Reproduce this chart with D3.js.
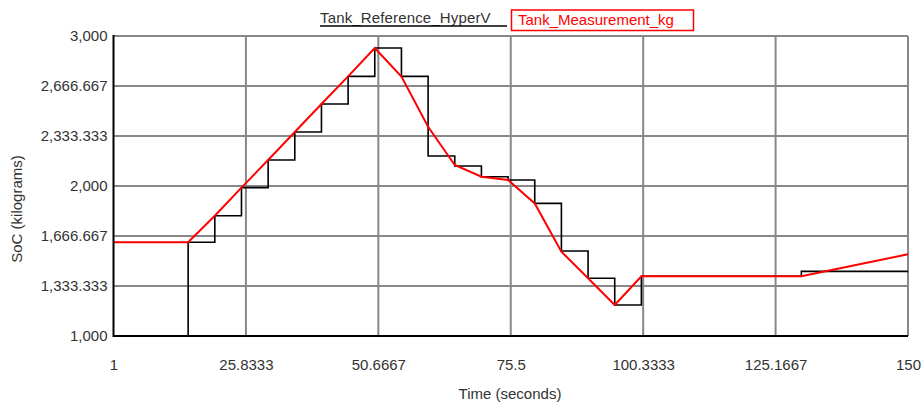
<!DOCTYPE html>
<html>
<head>
<meta charset="utf-8">
<script src="https://cdn.jsdelivr.net/npm/d3@7"></script>
<style>
  body { margin: 0; background: #fff; }
  svg { display: block; font-family: "Liberation Sans", Arial, sans-serif; }
</style>
</head>
<body>
<main></main>
<script>
// reference (step) series
const refTimes = [1, 15, 20, 25, 30, 35, 40, 45, 50, 55, 60, 65, 70, 75, 80, 85, 90, 95, 100, 130, 150];
const refValues = [1000, 1625, 1802, 1989, 2173, 2360, 2547, 2731, 2920, 2731, 2200, 2133, 2062, 2040, 1884, 1567, 1385, 1207, 1398, 1431, 1431];

// measurement series
const measTimes = [1, 15, 20, 25, 30, 35, 40, 45, 50, 55, 60, 65, 70, 75, 80, 85, 90, 95, 100, 130, 150];
const measValues = [1625, 1625, 1802, 1989, 2173, 2360, 2547, 2731, 2920, 2729, 2395, 2140, 2062, 2040, 1884, 1562, 1385, 1207, 1398, 1398, 1545];

const xTicks = [1, 25.8333, 50.6667, 75.5, 100.3333, 125.1667, 150];
const yTicks = [1000, 1333.333, 1666.667, 2000, 2333.333, 2666.667, 3000];

const seriesNames = ["Tank_Reference_HyperV", "Tank_Measurement_kg"];

function draw_chart() {
  const width = 923;
  const height = 403;
  const left = 113.5, right = 908, top = 36, bottom = 336;

  let svg = d3.select('main')
    .append('svg')
    .attr('width', width)
    .attr('height', height);

  const x = d3.scaleLinear().domain([1, 150]).range([left, right]);
  const y = d3.scaleLinear().domain([1000, 3000]).range([bottom, top]);

  // grid
  svg.append('g').selectAll('line')
    .data(yTicks.slice(1))
    .enter()
    .append('line')
    .attr('x1', left).attr('x2', right)
    .attr('y1', function (d) { return y(d); })
    .attr('y2', function (d) { return y(d); })
    .attr('stroke', '#888').attr('stroke-width', 2);

  svg.append('g').selectAll('line')
    .data(xTicks.slice(1))
    .enter()
    .append('line')
    .attr('y1', top).attr('y2', bottom)
    .attr('x1', function (d) { return x(d); })
    .attr('x2', function (d) { return x(d); })
    .attr('stroke', '#888').attr('stroke-width', 2);

  const refData = refTimes.map(function (t, i) { return [t, refValues[i]]; });
  const measData = measTimes.map(function (t, i) { return [t, measValues[i]]; });

  svg.append('path')
    .datum(refData)
    .attr('fill', 'none')
    .attr('stroke', '#000')
    .attr('stroke-width', 1.6)
    .attr('d', d3.line()
      .curve(d3.curveStepAfter)
      .x(function (d) { return x(d[0]); })
      .y(function (d) { return y(d[1]); }));

  svg.append('path')
    .datum(measData)
    .attr('fill', 'none')
    .attr('stroke', '#f00')
    .attr('stroke-width', 2)
    .attr('d', d3.line()
      .x(function (d) { return x(d[0]); })
      .y(function (d) { return y(d[1]); }));

  // axis lines
  svg.append('line')
    .attr('x1', left).attr('x2', left).attr('y1', top - 1).attr('y2', bottom + 1)
    .attr('stroke', '#000').attr('stroke-width', 2);
  svg.append('line')
    .attr('x1', left).attr('x2', right).attr('y1', bottom).attr('y2', bottom)
    .attr('stroke', '#000').attr('stroke-width', 2);

  // tick labels
  const yAxis = svg.append('g')
    .attr('transform', 'translate(' + (left - 1) + ',0)')
    .call(d3.axisLeft(y).tickValues(yTicks).tickSize(0).tickPadding(5)
      .tickFormat(d3.format(',.3~f')));
  const xAxis = svg.append('g')
    .attr('transform', 'translate(0,' + bottom + ')')
    .call(d3.axisBottom(x).tickValues(xTicks).tickSize(0).tickPadding(23)
      .tickFormat(d3.format('.4~f')));
  [yAxis, xAxis].forEach(function (a) {
    a.select('.domain').remove();
    a.selectAll('text')
      .attr('fill', '#333')
      .style('font-size', '15px')
      .style('font-family', '"Liberation Sans", Arial, sans-serif');
  });

  svg.append('text')
    .attr('x', 510).attr('y', 399)
    .attr('text-anchor', 'middle')
    .attr('fill', '#333')
    .style('font-size', '15px')
    .text('Time (seconds)');

  svg.append('text')
    .attr('transform', 'translate(22,209) rotate(-90)')
    .attr('text-anchor', 'middle')
    .attr('fill', '#333')
    .style('font-size', '15px')
    .text('SoC (kilograms)');

  // legend
  svg.append('text')
    .attr('x', 320).attr('y', 23)
    .attr('fill', '#333')
    .style('font-size', '15px')
    .style('letter-spacing', '0.15px')
    .text(seriesNames[0]);
  svg.append('line')
    .attr('x1', 320).attr('x2', 507).attr('y1', 26).attr('y2', 26)
    .attr('stroke', '#000').attr('stroke-width', 1.5);

  svg.append('rect')
    .attr('x', 511.5).attr('y', 10).attr('width', 182).attr('height', 20.5)
    .attr('fill', 'none').attr('stroke', '#f00').attr('stroke-width', 1.5);
  svg.append('text')
    .attr('x', 518).attr('y', 25)
    .attr('fill', '#f00')
    .style('font-size', '15px')
    .text(seriesNames[1]);
}

draw_chart();
</script>
</body>
</html>
